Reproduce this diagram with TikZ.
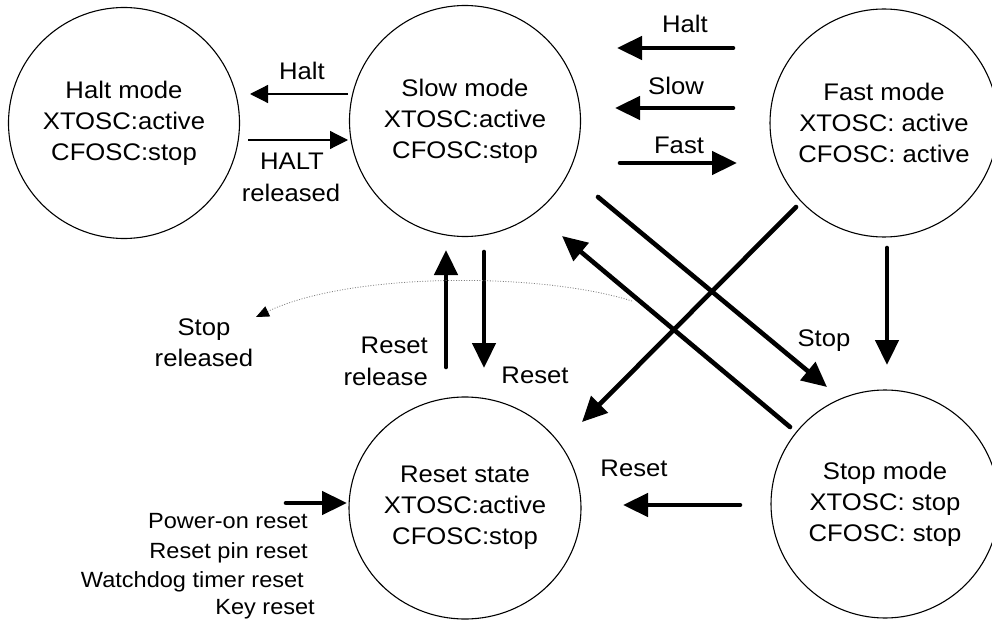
\documentclass[tikz,border=0pt]{standalone}
\usepackage{fontspec}
\setmainfont{Liberation Sans}[FakeStretch=1.07]
\usetikzlibrary{arrows.meta,shapes.geometric}
\begin{document}
\begin{tikzpicture}[x=1pt,y=-1pt,
  state/.style={draw,circle,line width=1.1pt,inner sep=0pt,minimum size=#1,align=center,
    font=\fontsize{24}{31}\selectfont},
  lab/.style={anchor=base,inner sep=0pt,font=\fontsize{24}{31}\selectfont},
  smlab/.style={anchor=base east,inner sep=0pt,font=\fontsize{22}{29}\selectfont},
  thin/.style={line width=1.2pt,-{Triangle[length=18pt,width=18pt]}},
  thick/.style={line width=4.6pt,line cap=round,-{Triangle[length=25pt,width=23pt]}},
  dots/.style={draw=gray,line width=0.8pt,dash pattern=on 1pt off 1.6pt,
    -{Triangle[length=13pt,width=11pt,fill=black,color=black]}}]
\useasboundingbox (0,0) rectangle (992,620);

% states
\node[state=231pt] (halt) at (124,123) {Halt mode\\XTOSC:active\\CFOSC:stop};
\node[state=231pt] (slow) at (465,121) {Slow mode\\XTOSC:active\\CFOSC:stop};
\node[state=228pt] (fast) at (884,123) {Fast mode\\XTOSC: active\\CFOSC: active};
\node[draw,ellipse,line width=1.1pt,inner sep=0pt,minimum width=232pt,minimum height=222pt,
  align=center,font=\fontsize{24}{31}\selectfont] (reset) at (465,508)
  {Reset state\\XTOSC:active\\CFOSC:stop};
\node[state=228pt] (stop) at (885,504) {Stop mode\\XTOSC: stop\\CFOSC: stop};

% arrow end points
\coordinate (hA) at (348,94);  \coordinate (hB) at (250,94);
\coordinate (hrA) at (248,140); \coordinate (hrB) at (348,140);
\coordinate (fhA) at (733,48); \coordinate (fhB) at (617,48);
\coordinate (fsA) at (733,108); \coordinate (fsB) at (615,108);
\coordinate (sfA) at (620,163); \coordinate (sfB) at (737,163);
\coordinate (ssA) at (598,197); \coordinate (ssB) at (827,387);
\coordinate (frA) at (796,207); \coordinate (frB) at (582,422);
\coordinate (tsA) at (790,427); \coordinate (tsB) at (562,236);
\coordinate (ftA) at (887,248); \coordinate (ftB) at (887,365);
\coordinate (trA) at (740,505); \coordinate (trB) at (623,505);
\coordinate (rrA) at (446,367); \coordinate (rrB) at (446,250);
\coordinate (rdA) at (484,252); \coordinate (rdB) at (484,368);
\coordinate (poA) at (286,503); \coordinate (poB) at (347,503);
\coordinate (dA) at (632,301); \coordinate (dB) at (256,317);

% connectors
\draw[thin] (hA) -- (hB);
\draw[thin] (hrA) -- (hrB);
\draw[thick] (fhA) -- (fhB);
\draw[thick] (fsA) -- (fsB);
\draw[thick] (sfA) -- (sfB);
\draw[thick] (ssA) -- (ssB);
\draw[thick] (frA) -- (frB);
\draw[thick] (tsA) -- (tsB);
\draw[thick] (ftA) -- (ftB);
\draw[thick] (trA) -- (trB);
\draw[thick] (rrA) -- (rrB);
\draw[thick] (rdA) -- (rdB);
\draw[thick] (poA) -- (poB);
\draw[dots] (dA) .. controls (540,272) and (350,272) .. (dB);

% labels
\node[lab] (l1) at (302,80) {Halt};
\node[lab] (l2) at (292,170) {HALT};
\node[lab] (l3) at (291,202) {released};
\node[lab] (l4) at (685,33) {Halt};
\node[lab] (l5) at (676,95) {Slow};
\node[lab] (l6) at (679,154) {Fast};
\node[lab] (l7) at (824,346) {Stop};
\node[lab] (l8) at (634,476) {Reset};
\node[lab,anchor=base east] (l9) at (428,353) {Reset};
\node[lab,anchor=base east] (l10) at (428,385) {release};
\node[lab] (l11) at (535,383) {Reset};
\node[lab] (l12) at (204,335) {Stop};
\node[lab] (l13) at (204,366) {released};
\node[smlab] (p1) at (308,528) {Power-on reset};
\node[smlab] (p2) at (308,558) {Reset pin reset};
\node[smlab] (p3) at (304,587) {Watchdog timer reset};
\node[smlab] (p4) at (315,614) {Key reset};
\end{tikzpicture}
\end{document}
